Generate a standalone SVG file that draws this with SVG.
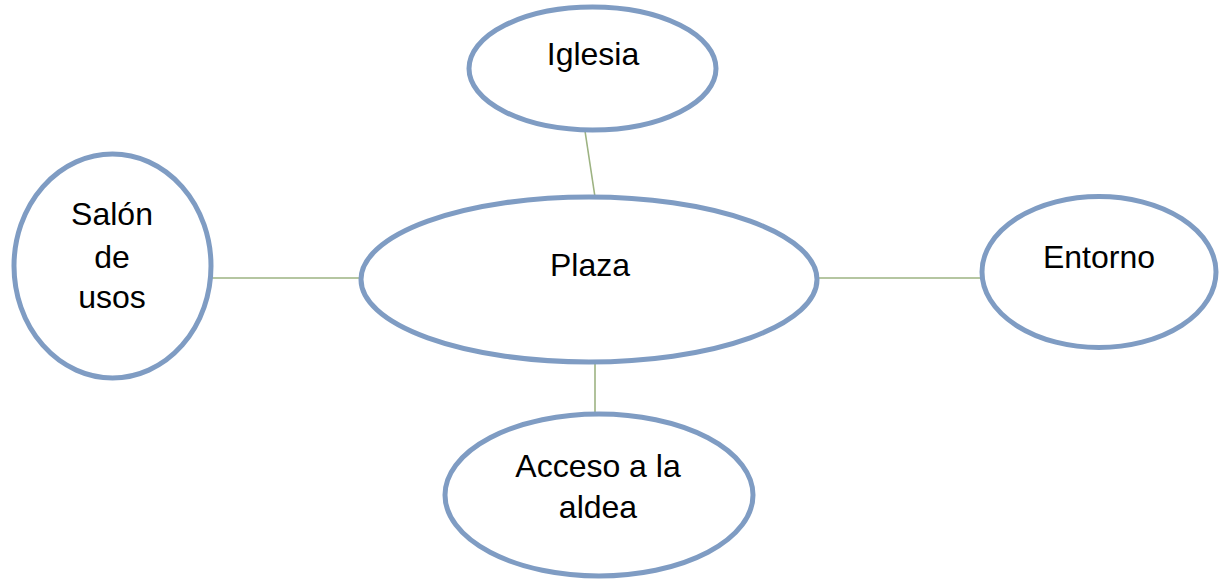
<svg xmlns="http://www.w3.org/2000/svg" width="1222" height="579" viewBox="0 0 1222 579">
<style>
.node{fill:#fff;stroke:#7F9CC3;stroke-width:5}
.lbl{font-family:"Liberation Sans",Arial,sans-serif;font-size:32px;fill:#000;text-anchor:middle}
.conn{stroke:#9DB382;stroke-width:1.6;fill:none}
</style>
<rect width="1222" height="579" fill="#fff"/>
<g id="connectors">
<line class="conn" x1="585" y1="131" x2="595" y2="197"/>
<line class="conn" x1="212" y1="278" x2="362" y2="278"/>
<line class="conn" x1="816" y1="278" x2="982" y2="278"/>
<line class="conn" x1="595" y1="362" x2="595" y2="414"/>
</g>
<g id="iglesia">
<ellipse class="node" cx="592.5" cy="68.5" rx="123.5" ry="61.5"/>
<text class="lbl" x="593" y="65">Iglesia</text>
</g>
<g id="plaza">
<ellipse class="node" cx="589" cy="279.5" rx="228" ry="82.5"/>
<text class="lbl" x="590" y="276">Plaza</text>
</g>
<g id="salon">
<ellipse class="node" cx="112.5" cy="266" rx="98.5" ry="112"/>
<text class="lbl" x="112" y="225">Salón</text>
<text class="lbl" x="112" y="268">de</text>
<text class="lbl" x="112" y="308">usos</text>
</g>
<g id="entorno">
<ellipse class="node" cx="1099" cy="272" rx="117" ry="75.5"/>
<text class="lbl" x="1099" y="268">Entorno</text>
</g>
<g id="acceso">
<ellipse class="node" cx="599" cy="495" rx="154" ry="81"/>
<text class="lbl" x="598" y="477">Acceso a la</text>
<text class="lbl" x="598" y="518">aldea</text>
</g>
</svg>
